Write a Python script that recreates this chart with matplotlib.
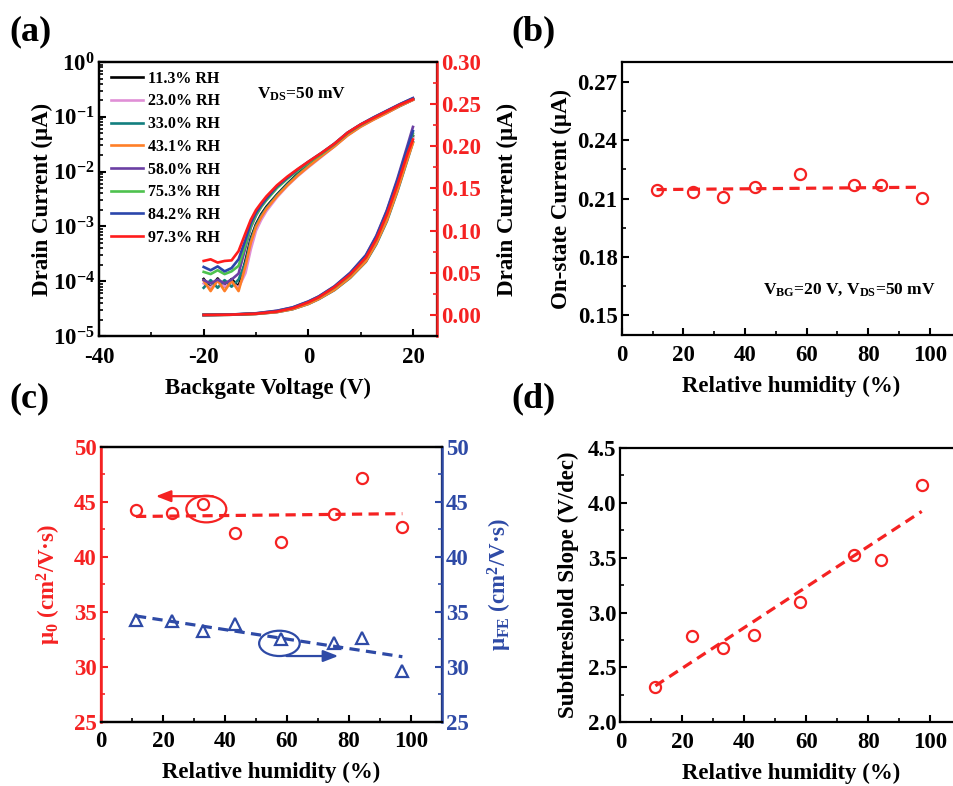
import numpy as np
import matplotlib
matplotlib.use("Agg")
import matplotlib.pyplot as plt
from matplotlib.patches import Ellipse
from matplotlib.ticker import MultipleLocator, LogLocator, NullFormatter, FormatStrFormatter

plt.rcParams['font.family'] = ['Liberation Serif', 'DejaVu Serif']
plt.rcParams['font.weight'] = 'bold'
plt.rcParams['axes.labelweight'] = 'bold'
plt.rcParams['mathtext.fontset'] = 'custom'
plt.rcParams['mathtext.rm'] = 'Liberation Serif:bold'
plt.rcParams['mathtext.it'] = 'Liberation Serif:italic:bold'
plt.rcParams['mathtext.bf'] = 'Liberation Serif:bold'
plt.rcParams['mathtext.default'] = 'bf'
plt.rcParams['axes.unicode_minus'] = False
plt.rcParams['axes.linewidth'] = 1.6

# ---- data ----
rh = [11.3, 23.0, 33.0, 43.1, 58.0, 75.3, 84.2, 97.3]
rh_labels = ["11.3% RH", "23.0% RH", "33.0% RH", "43.1% RH",
             "58.0% RH", "75.3% RH", "84.2% RH", "97.3% RH"]
curve_colors = ["#000000", "#e08fd6", "#127f7f", "#ff7f27",
                "#6b3fa3", "#4ec24e", "#2b46ab", "#ff1c1c"]

# transfer curves, log10 of drain current (uA), left axis
vg_log = [-20, -18.67, -17.33, -16, -14.67, -13.33, -12, -11, -10, -9, -8,
          -6, -4, -2, 0, 2.5, 5, 7.5, 10, 12.5, 15, 17.5, 20]
logid_113 = [-3.96, -4.12, -3.95, -4.10, -3.96, -4.10, -3.62, -3.22, -2.96, -2.78, -2.64,
             -2.42, -2.22, -2.04, -1.88, -1.70, -1.52, -1.32, -1.16, -1.04, -0.92, -0.80, -0.69]
logid_230 = [-4.04, -4.12, -4.00, -4.10, -4.02, -4.12, -3.85, -3.42, -3.08, -2.88, -2.72,
             -2.47, -2.26, -2.08, -1.92, -1.73, -1.54, -1.34, -1.18, -1.05, -0.93, -0.80, -0.69]
logid_330 = [-4.12, -3.98, -4.12, -3.98, -4.10, -3.97, -3.66, -3.25, -2.98, -2.80, -2.66,
             -2.43, -2.23, -2.05, -1.89, -1.71, -1.53, -1.33, -1.17, -1.04, -0.92, -0.80, -0.68]
logid_431 = [-3.99, -4.18, -3.98, -4.18, -3.99, -4.18, -3.72, -3.30, -3.01, -2.83, -2.68,
             -2.45, -2.25, -2.07, -1.91, -1.72, -1.54, -1.34, -1.18, -1.05, -0.93, -0.80, -0.69]
logid_580 = [-3.98, -4.04, -3.97, -4.04, -3.97, -3.86, -3.38, -3.02, -2.80, -2.64, -2.51,
             -2.29, -2.12, -1.97, -1.83, -1.67, -1.49, -1.29, -1.14, -1.01, -0.89, -0.77, -0.66]
logid_753 = [-3.83, -3.87, -3.80, -3.87, -3.82, -3.72, -3.33, -3.00, -2.79, -2.64, -2.52,
             -2.30, -2.13, -1.98, -1.84, -1.68, -1.50, -1.30, -1.15, -1.02, -0.90, -0.78, -0.67]
logid_842 = [-3.74, -3.80, -3.73, -3.82, -3.76, -3.60, -3.24, -2.94, -2.75, -2.61, -2.49,
             -2.27, -2.11, -1.96, -1.82, -1.66, -1.49, -1.29, -1.14, -1.01, -0.89, -0.77, -0.66]
logid_973 = [-3.63, -3.60, -3.66, -3.63, -3.62, -3.45, -3.12, -2.88, -2.70, -2.57, -2.45,
             -2.25, -2.09, -1.95, -1.82, -1.66, -1.49, -1.29, -1.14, -1.02, -0.90, -0.78, -0.68]
logid_all = [logid_113, logid_230, logid_330, logid_431,
             logid_580, logid_753, logid_842, logid_973]

# transfer curves, linear drain current (uA), right axis
vg_lin = [-20, -15, -10, -6, -3, 0, 2, 5, 8, 11, 13, 15, 17, 19, 20]
id_113 = [0.0, 0.0003, 0.0014, 0.0038, 0.0076, 0.014, 0.0198, 0.031, 0.046, 0.066, 0.088, 0.117, 0.152, 0.192, 0.212]
id_230 = [0.0, 0.0002, 0.0012, 0.0034, 0.0070, 0.0132, 0.019, 0.030, 0.045, 0.064, 0.086, 0.114, 0.149, 0.189, 0.210]
id_330 = [0.0, 0.0002, 0.0012, 0.0034, 0.0068, 0.013, 0.0188, 0.0295, 0.044, 0.063, 0.084, 0.111, 0.146, 0.185, 0.205]
id_431 = [0.0, 0.0002, 0.0012, 0.0034, 0.0069, 0.0131, 0.019, 0.0298, 0.0445, 0.0635, 0.085, 0.112, 0.147, 0.186, 0.204]
id_580 = [0.0, 0.0004, 0.0020, 0.0050, 0.0090, 0.016, 0.022, 0.034, 0.050, 0.071, 0.094, 0.124, 0.161, 0.202, 0.223]
id_753 = [0.0, 0.0003, 0.0016, 0.0042, 0.0082, 0.015, 0.021, 0.0325, 0.0475, 0.068, 0.090, 0.119, 0.155, 0.195, 0.215]
id_842 = [0.0, 0.0004, 0.0018, 0.0048, 0.0088, 0.0158, 0.0218, 0.0338, 0.0495, 0.0705, 0.093, 0.123, 0.159, 0.199, 0.218]
id_973 = [0.0, 0.0003, 0.0015, 0.0040, 0.0080, 0.015, 0.021, 0.033, 0.048, 0.068, 0.090, 0.119, 0.154, 0.192, 0.208]
id_all = [id_113, id_230, id_330, id_431, id_580, id_753, id_842, id_973]

on_current = [0.2142, 0.2135, 0.2108, 0.2159, 0.2225, 0.2171, 0.2169, 0.2104]
mu0 = [44.24, 43.94, 44.79, 42.18, 41.36, 43.88, 47.12, 42.73]
mu_fe = [34.24, 34.18, 33.27, 33.88, 32.52, 32.12, 32.61, 29.64]
ss = [2.32, 2.79, 2.675, 2.794, 3.10, 3.527, 3.48, 4.165]

RED = "#f52222"
BLUE = "#2e4aa6"
LAB = 16.5
TICK = 16.5


def style_ticks(ax, axis='both', color='k'):
    ax.tick_params(axis=axis, which='major', direction='in', length=5, width=1.5,
                   labelsize=TICK, colors=color)
    ax.tick_params(axis=axis, which='minor', direction='in', length=3, width=1.2,
                   colors=color)


fig = plt.figure(figsize=(9.54, 7.86), dpi=100)

# ---------- (a) ----------
axa = fig.add_axes([0.1038, 0.5725, 0.3543, 0.3486])
axa2 = axa.twinx()
for lab, col, ly in zip(rh_labels, curve_colors, logid_all):
    axa.plot(vg_log, 10 ** np.array(ly), color=col, lw=1.9, label=lab)
for col, iy in zip(curve_colors, id_all):
    axa2.plot(vg_lin, iy, color=col, lw=1.9)
axa.set_yscale('log')
axa.set_xlim(-40, 24.6)
axa.set_ylim(1e-5, 1)
axa2.set_ylim(-0.025, 0.30)
axa.xaxis.set_major_locator(MultipleLocator(20))
axa.xaxis.set_minor_locator(MultipleLocator(10))
axa.yaxis.set_major_locator(LogLocator(base=10, numticks=10))
axa.yaxis.set_minor_locator(LogLocator(base=10, subs=np.arange(2, 10), numticks=10))
axa.yaxis.set_minor_formatter(NullFormatter())
axa2.yaxis.set_major_locator(MultipleLocator(0.05))
axa2.yaxis.set_minor_locator(MultipleLocator(0.025))
axa2.yaxis.set_major_formatter(FormatStrFormatter('%.2f'))
style_ticks(axa)
axa.tick_params(axis='x', pad=8)
axa.tick_params(axis='y', pad=3, right=False)
style_ticks(axa2, 'y', RED)
axa2.tick_params(axis='y', pad=3)
axa2.spines['right'].set_color(RED)
axa2.spines['right'].set_linewidth(1.8)
axa.set_xlabel("Backgate Voltage (V)", fontsize=LAB, labelpad=7)
axa.set_ylabel("Drain Current (μA)", fontsize=LAB, labelpad=0)
axa2.set_ylabel("Drain Current (μA)", fontsize=LAB, color='k', labelpad=11)
axa.legend(loc='upper left', bbox_to_anchor=(0.035, 0.968), frameon=False,
           handlelength=2.0, handletextpad=0.3, labelspacing=0.42,
           borderpad=0, borderaxespad=0, prop={'size': 11.5, 'weight': 'bold'})
axa.text(0.467, 0.882, r"V$_{DS}$=50 mV", transform=axa.transAxes,
         fontsize=12.5, va='center', ha='left')

# ---------- (b) ----------
axb = fig.add_axes([0.6517, 0.5738, 0.3553, 0.3473])
fit_b = np.polyfit(rh, on_current, 1)
xfit = np.array([min(rh), max(rh)])
axb.plot(xfit, np.polyval(fit_b, xfit), color=RED, lw=2.3, ls=(0, (3.2, 2.0)))
axb.plot(rh, on_current, 'o', mfc='none', mec=RED, mew=1.6, ms=8)
axb.set_xlim(0, 110)
axb.set_ylim(0.14, 0.28)
axb.xaxis.set_major_locator(MultipleLocator(20))
axb.xaxis.set_minor_locator(MultipleLocator(10))
axb.yaxis.set_major_locator(MultipleLocator(0.03))
axb.yaxis.set_minor_locator(MultipleLocator(0.015))
axb.yaxis.set_major_formatter(FormatStrFormatter('%.2f'))
style_ticks(axb)
axb.tick_params(axis='x', pad=7)
axb.tick_params(axis='y', pad=3)
axb.set_xlabel("Relative humidity (%)", fontsize=LAB, labelpad=7)
axb.set_ylabel("On-state Current (μA)", fontsize=LAB, labelpad=4)
axb.text(0.417, 0.165, r"V$_{BG}$=20 V, V$_{DS}$=50 mV", transform=axb.transAxes,
         fontsize=12.5, va='center', ha='left')

# ---------- (c) ----------
axc = fig.add_axes([0.1059, 0.0818, 0.3571, 0.3499])
axc2 = axc.twinx()
fit_r = np.polyfit(rh, mu0, 1)
fit_bl = np.polyfit(rh, mu_fe, 1)
axc.plot(xfit, np.polyval(fit_r, xfit), color=RED, lw=2.3, ls=(0, (3.2, 2.0)))
axc.plot(rh, mu0, 'o', mfc='none', mec=RED, mew=1.6, ms=8)
axc2.plot(xfit, np.polyval(fit_bl, xfit), color=BLUE, lw=2.3, ls=(0, (3.2, 2.0)))
axc2.plot(rh, mu_fe, '^', mfc='none', mec=BLUE, mew=1.6, ms=8)
axc.set_xlim(0, 110)
axc.set_ylim(25, 50)
axc2.set_ylim(25, 50)
axc.xaxis.set_major_locator(MultipleLocator(20))
axc.xaxis.set_minor_locator(MultipleLocator(10))
for a in (axc, axc2):
    a.yaxis.set_major_locator(MultipleLocator(5))
    a.yaxis.set_minor_locator(MultipleLocator(2.5))
style_ticks(axc, 'x')
style_ticks(axc, 'y', RED)
axc.tick_params(axis='x', pad=7)
axc.tick_params(axis='y', pad=3)
style_ticks(axc2, 'y', BLUE)
axc2.tick_params(axis='y', pad=3)
axc.spines['left'].set_color(RED)
axc2.spines['left'].set_color(RED)
axc2.spines['right'].set_color(BLUE)
axc.spines['left'].set_linewidth(1.8)
axc2.spines['right'].set_linewidth(1.8)
axc.set_xlabel("Relative humidity (%)", fontsize=LAB, labelpad=7)
axc.set_ylabel(r"μ$_0$ (cm$^2$/V·s)", fontsize=LAB, color=RED, labelpad=8)
axc2.set_ylabel(r"μ$_{FE}$ (cm$^2$/V·s)", fontsize=LAB, color=BLUE, labelpad=12)
axc.add_patch(Ellipse((34.0, 44.33), 12.9, 2.42, fill=False, ec=RED, lw=1.6))
axc.annotate("", xy=(16.8, 45.5), xytext=(37.0, 45.5),
             arrowprops=dict(arrowstyle='-|>,head_length=0.9,head_width=0.35',
                             color=RED, lw=1.6))
axc2.add_patch(Ellipse((57.6, 32.12), 13.1, 2.3, fill=False, ec=BLUE, lw=1.6))
axc2.annotate("", xy=(77.5, 30.97), xytext=(59.0, 30.97),
              arrowprops=dict(arrowstyle='-|>,head_length=0.9,head_width=0.35',
                              color=BLUE, lw=1.6))

# ---------- (d) ----------
axd = fig.add_axes([0.6503, 0.081, 0.3571, 0.349])
fit_d = np.polyfit(rh, ss, 1)
axd.plot(xfit, np.polyval(fit_d, xfit), color=RED, lw=2.3, ls=(0, (3.2, 2.0)))
axd.plot(rh, ss, 'o', mfc='none', mec=RED, mew=1.6, ms=8)
axd.set_xlim(0, 110)
axd.set_ylim(2.0, 4.5)
axd.xaxis.set_major_locator(MultipleLocator(20))
axd.xaxis.set_minor_locator(MultipleLocator(10))
axd.yaxis.set_major_locator(MultipleLocator(0.5))
axd.yaxis.set_minor_locator(MultipleLocator(0.25))
axd.yaxis.set_major_formatter(FormatStrFormatter('%.1f'))
style_ticks(axd)
axd.tick_params(axis='x', pad=7)
axd.tick_params(axis='y', pad=3)
axd.set_xlabel("Relative humidity (%)", fontsize=LAB, labelpad=7)
axd.set_ylabel("Subthreshold Slope (V/dec)", fontsize=LAB, labelpad=6)

# panel letters
for s, x, y in [("(a)", 0.010, 0.960), ("(b)", 0.536, 0.960),
                ("(c)", 0.010, 0.492), ("(d)", 0.536, 0.492)]:
    fig.text(x, y, s, fontsize=26, fontweight='bold', va='center', ha='left')

fig.savefig("out.png", dpi=100)
